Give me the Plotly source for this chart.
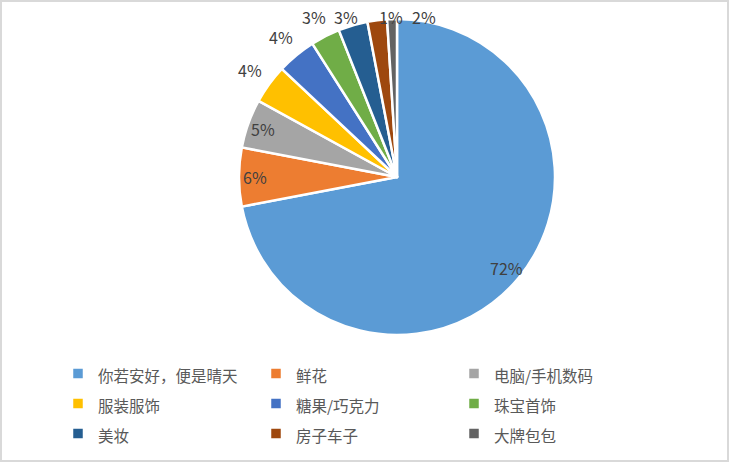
import numpy as np
import plotly.graph_objects as go

W, H = 729, 462

labels = ["你若安好，便是晴天", "鲜花", "电脑/手机数码", "服装服饰", "糖果/巧克力",
          "珠宝首饰", "美妆", "房子车子", "大牌包包"]
values = [72, 6, 5, 4, 4, 3, 3, 2, 1]
colors = ["#5B9BD5", "#ED7D31", "#A5A5A5", "#FFC000", "#4472C4",
          "#70AD47", "#255E91", "#9E480E", "#636363"]
inside = [True, True, True, False, False, False, False, False, False]

ML, MR, MT, MB = 0, 0, 0, 0
PW, PH = W - ML - MR, H - MT - MB


def px_x(px):
    return (px - ML) / PW


def px_y(py):
    return 1 - (py - MT) / PH


# pie: centre (397, 177), radius 158 (px)
cx, cy, r = 397, 177, 158
dom_x = [px_x(cx - r), px_x(cx + r)]
dom_y = [px_y(cy + r), px_y(cy - r)]

# data labels, Excel style: inside end for big slices, outside for small ones
vals = np.array(values, dtype=float)
mid = (np.cumsum(vals) - vals / 2) / vals.sum() * 2 * np.pi
pcts = [f"{round(v / vals.sum() * 100):.0f}%" for v in vals]
pos = [None] * len(vals)
placed = []
for i in range(len(vals) - 1, -1, -1):
    d = r - 16 if inside[i] else r + 24
    x = cx + d * np.sin(mid[i])
    y = max(cy - d * np.cos(mid[i]), 17)
    if not inside[i]:
        for (px_, py_) in placed:
            if abs(x - px_) < 30 and abs(y - py_) < 14:
                x = px_ + 33
        placed.append((x, y))
    pos[i] = (x, y)

annotations = [
    dict(x=px_x(x), y=px_y(y), xref="paper", yref="paper", text=t,
         showarrow=False, xanchor="center", yanchor="middle",
         font=dict(family="Noto Sans CJK SC", size=16, color="#404040"))
    for (x, y), t in zip(pos, pcts)
]

legend_labels = [f"<span style='font-size:15.5px'>{s}</span>" for s in labels]

fig = go.Figure(go.Pie(
    labels=legend_labels,
    values=values,
    sort=False,
    direction="clockwise",
    rotation=0,
    marker=dict(colors=colors, line=dict(color="white", width=2.5)),
    textinfo="none",
    domain=dict(x=dom_x, y=dom_y),
    hoverinfo="label+percent",
))

fig.update_layout(
    width=W, height=H,
    margin=dict(l=ML, r=MR, t=MT, b=MB),
    paper_bgcolor="white",
    plot_bgcolor="white",
    font=dict(family="Noto Sans CJK SC", color="#595959"),
    legend=dict(
        orientation="h",
        x=px_x(64), xanchor="left",
        y=px_y(353.5), yanchor="top",
        entrywidth=159,
        indentation=-6,
        font=dict(size=20.8, color="#595959", family="Noto Sans CJK SC"),
        bgcolor="rgba(0,0,0,0)",
    ),
    annotations=annotations,
    shapes=[dict(
        type="rect", xref="paper", yref="paper",
        x0=px_x(1), x1=px_x(W - 1),
        y0=px_y(H - 1), y1=px_y(1),
        line=dict(color="#D9D9D9", width=2),
        layer="below",
    )],
)

# drop the default 8px page margin so the figure sits flush in the window
fig.write_html("out.html", config={"displayModeBar": False},
               post_script="document.body.style.margin='0';")
